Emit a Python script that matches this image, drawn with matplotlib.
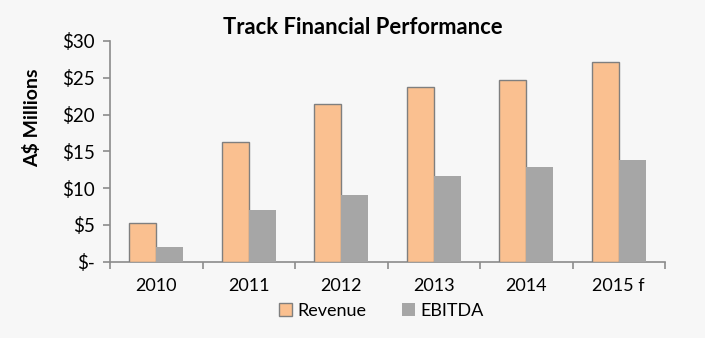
import numpy as np
import matplotlib
matplotlib.use("Agg")
import matplotlib.pyplot as plt
from matplotlib.ticker import FuncFormatter

years = ["2010", "2011", "2012", "2013", "2014", "2015 f"]
revenue = [5.2, 16.2, 21.4, 23.8, 24.7, 27.2]
ebitda = [2.0, 7.0, 9.0, 11.7, 12.9, 13.85]

plt.rcParams["font.family"] = ["Lato", "DejaVu Sans"]

bg = "#f7f7f7"
axis_col = "#8c8c8c"

fig = plt.figure(figsize=(7.05, 3.38), dpi=100, facecolor=bg)
ax = fig.add_axes([110 / 705, 1 - 261.5 / 338, 555 / 705, 220.5 / 338], facecolor=bg)

x = np.arange(len(years))
w = 0.29
ax.bar(x - w / 2, revenue, w, color="#fac090", edgecolor="#7f7f7f", linewidth=1.0,
       label="Revenue", zorder=3)
ax.bar(x + w / 2, ebitda, w, color="#a6a6a6", edgecolor="none", label="EBITDA", zorder=3)

ax.set_xlim(-0.5, len(years) - 0.5)
ax.set_ylim(0, 30)
ax.set_yticks(np.arange(0, 31, 5))
ax.yaxis.set_major_formatter(FuncFormatter(lambda v, p: "$-" if v == 0 else f"${v:.0f}"))

ax.set_xticks(x)
ax.set_xticklabels(years)
ax.set_xticks(np.arange(-0.5, len(years)), minor=True)
ax.tick_params(axis="x", which="major", length=0, pad=12, labelsize=13)
ax.tick_params(axis="x", which="minor", length=5, width=1.2, color=axis_col, direction="out")
ax.tick_params(axis="y", length=5, width=1.2, color=axis_col, pad=6, labelsize=13.5)

for s in ["top", "right"]:
    ax.spines[s].set_visible(False)
for s in ["left", "bottom"]:
    ax.spines[s].set_color(axis_col)
    ax.spines[s].set_linewidth(1.2)

fig.text(32 / 705, 1 - 118 / 338, "A$ Millions", rotation=90, ha="center", va="center",
         fontsize=14, fontweight="bold")
fig.text(363 / 705, 1 - 27 / 338, "Track Financial Performance", ha="center", va="center",
         fontsize=15.8, fontweight="bold")

handles, labels = ax.get_legend_handles_labels()
fig.legend(handles, labels, loc="center", bbox_to_anchor=(381.5 / 705, 1 - 311 / 338),
           ncol=2, frameon=False, fontsize=13, handlelength=0.7, handleheight=0.7,
           columnspacing=2.0, handletextpad=0.3, borderpad=0)

fig.savefig("out.png", dpi=100, facecolor=bg)
